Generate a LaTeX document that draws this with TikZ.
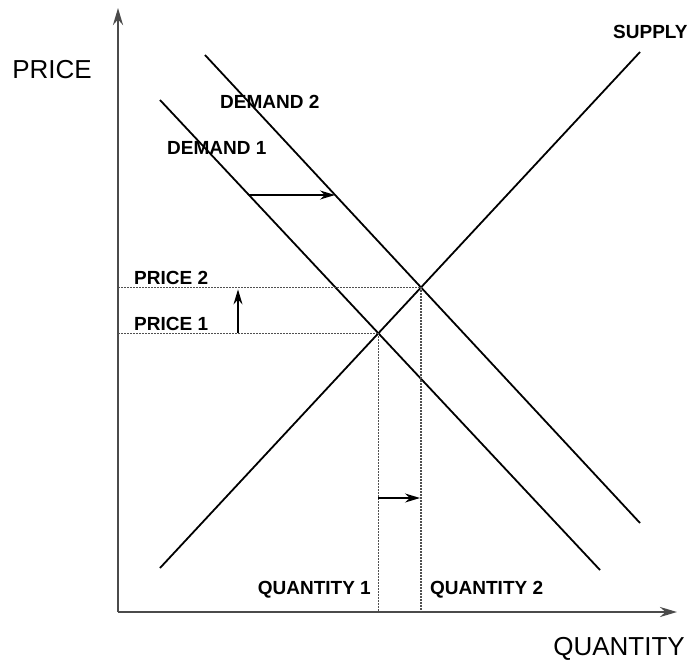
\documentclass[tikz,border=0pt]{standalone}
\usepackage{fontspec}
\setmainfont{Liberation Sans}
\usetikzlibrary{arrows.meta,positioning,calc,intersections}
\definecolor{axisgray}{RGB}{75,75,75}
\definecolor{guidegray}{RGB}{80,80,80}

\begin{document}
\begin{tikzpicture}[
    x=1pt, y=-1pt,
    axis/.style={-{Stealth[length=17pt, width=10pt]}, line width=2.4pt, axisgray},
    curve/.style={line width=1.8pt, black},
    guide/.style={dash pattern=on 2pt off 1pt, line width=1.4pt, guidegray},
    shiftarrow/.style={-{Stealth[length=15pt, width=9pt]}, line width=1.3pt, black},
    axislabel/.style={font=\fontsize{26}{28}\selectfont, inner sep=0pt},
    curvelabel/.style={font=\fontsize{19}{21}\selectfont\bfseries, inner sep=0pt}
]
\useasboundingbox (0,0) rectangle (691,665);

% Axes
\coordinate (origin) at (118,612);
\coordinate (ytop) at (118,8);
\coordinate (xend) at (677,612);
\draw[axis] (origin) -- (ytop);
\draw[axis] (origin) -- (xend);
\node[axislabel] (pricelabel) at (52,70) {PRICE};
\node[axislabel] (qtylabel) at (619,649) {QUANTITY};

% Supply and demand curves
\coordinate (supplylow) at (160,568);
\coordinate (supplyhigh) at (640,52);
\coordinate (d1top) at (160,100);
\coordinate (d1bottom) at (600,570);
\coordinate (d2top) at (205,55);
\coordinate (d2bottom) at (640,523);
\draw[curve, name path=supply] (supplylow) -- (supplyhigh);
\draw[curve, name path=demand1] (d1top) -- (d1bottom);
\draw[curve, name path=demand2] (d2top) -- (d2bottom);
\node[curvelabel, anchor=west] (supplylabel) at (613,32) {SUPPLY};
\node[curvelabel, anchor=west] (d2label) at (220,102) {DEMAND 2};
\node[curvelabel, anchor=west] (d1label) at (167,148) {DEMAND 1};

% Equilibrium points
\path[name intersections={of=supply and demand1, by=eq1}];
\path[name intersections={of=supply and demand2, by=eq2}];

% Price and quantity guides
\draw[guide] (origin |- eq1) -- (eq1);
\draw[guide] (origin |- eq2) -- (eq2);
\draw[guide] (eq1) -- (eq1 |- origin);
\draw[guide] (eq2) -- (eq2 |- origin);
\node[curvelabel, anchor=west] (p2label) at (134,278) {PRICE 2};
\node[curvelabel, anchor=west] (p1label) at (134,324) {PRICE 1};
\node[curvelabel, anchor=east] (q1label) at (371,590) {QUANTITY 1};
\node[curvelabel, anchor=west] (q2label) at (430,590) {QUANTITY 2};

% Shift arrows
\coordinate (pcol) at (238,0);
\coordinate (qrow) at (0,498);
\coordinate (dshiftstart) at (249,195);
\coordinate (dshiftend) at (335,195);
\draw[shiftarrow] (dshiftstart) -- (dshiftend);
\coordinate (pshiftstart) at (pcol |- eq1);
\coordinate (pshiftend) at ($(pcol |- eq2)+(0,2)$);
\draw[shiftarrow] (pshiftstart) -- (pshiftend);
\coordinate (qshiftstart) at (eq1 |- qrow);
\coordinate (qshiftend) at ($(eq2 |- qrow)+(-1,0)$);
\draw[shiftarrow] (qshiftstart) -- (qshiftend);

\end{tikzpicture}
\end{document}
